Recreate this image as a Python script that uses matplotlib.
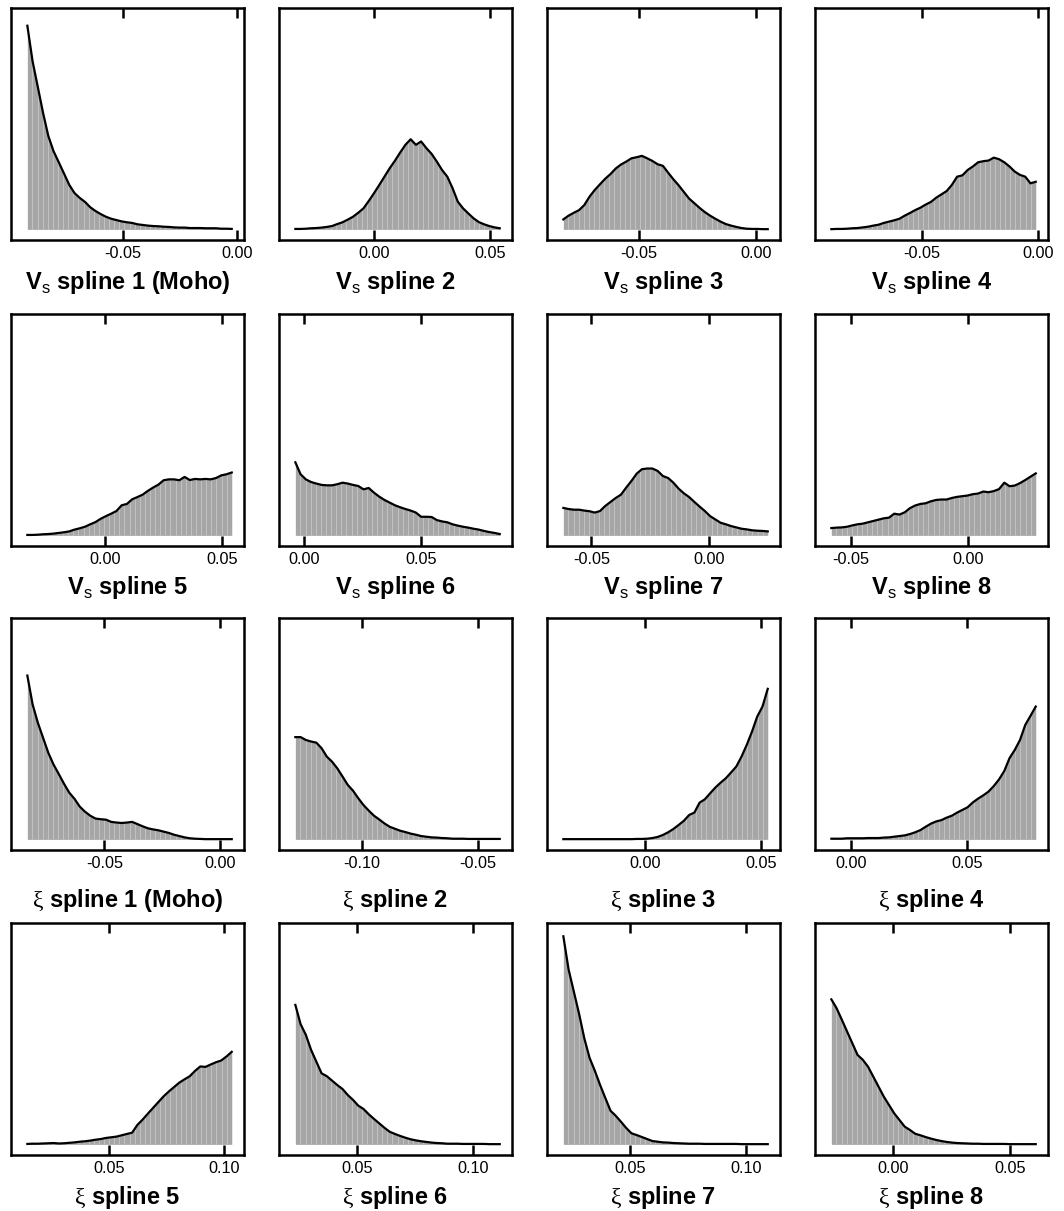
import numpy as np
import matplotlib
matplotlib.use("Agg")
import matplotlib.pyplot as plt
from matplotlib.ticker import MultipleLocator, FuncFormatter

plt.rcParams['font.family'] = ['Liberation Sans', 'DejaVu Sans']
plt.rcParams['mathtext.fontset'] = 'custom'
plt.rcParams['mathtext.rm'] = 'Liberation Serif'
plt.rcParams['mathtext.bf'] = 'Liberation Sans:bold'
plt.rcParams['mathtext.sf'] = 'Liberation Sans'

# sampled range (min, max) of each spline coefficient
vs_range = [(-0.0917, -0.0024), (-0.0336, 0.0541), (-0.0823, 0.0049), (-0.0888, -0.0009),
            (-0.0332, 0.0540), (-0.0038, 0.0834), (-0.0619, 0.0247), (-0.0585, 0.0289)]
xi_range = [(-0.0832, 0.0050), (-0.1288, -0.0406), (-0.0353, 0.0529), (-0.0085, 0.0794),
            (0.0144, 0.1032), (0.0237, 0.1114), (0.0212, 0.1094), (-0.0262, 0.0608)]

# density heights, 40 bins each, in % of plot height
vs1 = [92.0, 75.9, 64.3, 52.6, 42.2, 35.3, 30.3, 25.2, 20.1, 16.4,
       14.2, 12.4, 10.0, 8.3, 6.9, 5.7, 4.8, 4.2, 3.6, 3.2,
       2.9, 2.3, 2.0, 1.7, 1.5, 1.4, 1.2, 1.1, 0.9, 0.8,
       0.8, 0.6, 0.6, 0.6, 0.5, 0.5, 0.5, 0.3, 0.3, 0.2]
vs2 = [0.2, 0.2, 0.3, 0.5, 0.6, 0.8, 1.1, 1.5, 2.4, 3.2,
       4.4, 5.7, 7.5, 9.5, 12.8, 16.3, 20.0, 23.8, 27.6, 31.0,
       34.7, 38.2, 40.7, 38.2, 39.7, 36.7, 34.1, 30.6, 26.8, 23.8,
       18.6, 12.5, 9.5, 7.2, 5.0, 3.3, 2.3, 1.5, 0.9, 0.5]
vs3 = [4.5, 6.2, 7.5, 8.7, 11.0, 14.8, 17.8, 20.4, 22.9, 25.0,
       27.5, 29.3, 30.6, 32.1, 32.6, 33.2, 32.1, 30.9, 29.4, 28.7,
       25.6, 22.6, 19.9, 16.9, 13.9, 11.8, 9.7, 7.8, 6.2, 4.8,
       3.5, 2.4, 1.7, 1.1, 0.6, 0.3, 0.2, 0.2, 0.1, 0.1]
vs4 = [0.1, 0.2, 0.2, 0.3, 0.5, 0.6, 0.9, 1.2, 1.7, 2.1,
       2.9, 3.5, 4.1, 4.8, 6.2, 7.4, 8.7, 9.8, 11.2, 12.4,
       14.3, 15.8, 17.3, 20.1, 23.8, 24.4, 26.8, 28.4, 30.3, 30.8,
       31.1, 32.4, 31.7, 30.3, 28.4, 26.1, 24.6, 23.8, 20.8, 21.5]
vs5 = [0.2, 0.2, 0.3, 0.5, 0.6, 0.8, 1.1, 1.4, 1.8, 2.6,
       3.2, 3.9, 5.0, 6.0, 7.5, 8.7, 9.8, 11.0, 13.6, 14.2,
       16.3, 17.3, 18.4, 20.1, 21.6, 22.9, 24.9, 25.3, 25.3, 24.9,
       26.4, 25.0, 25.5, 25.3, 25.5, 25.3, 25.9, 27.1, 27.6, 28.4]
vs6 = [33.0, 27.6, 25.3, 24.1, 23.4, 22.8, 22.6, 22.6, 23.1, 23.8,
       23.4, 22.8, 22.3, 20.8, 21.4, 19.3, 17.5, 16.0, 14.8, 13.6,
       12.7, 11.9, 11.2, 10.3, 8.4, 8.4, 8.3, 6.9, 6.3, 5.9,
       5.0, 4.4, 3.9, 3.5, 3.0, 2.6, 2.0, 1.5, 1.1, 0.6]
vs7 = [12.4, 11.9, 11.6, 11.6, 11.2, 10.9, 10.3, 11.0, 13.3, 15.1,
       16.9, 18.4, 21.6, 24.6, 27.9, 29.9, 30.2, 30.2, 29.1, 26.8,
       25.9, 23.8, 21.1, 19.0, 17.3, 15.1, 13.0, 11.0, 8.7, 7.2,
       5.7, 5.0, 4.2, 3.6, 3.0, 2.7, 2.3, 2.1, 2.0, 1.8]
vs8 = [3.3, 3.5, 3.6, 3.9, 4.5, 5.0, 5.3, 5.9, 6.5, 7.1,
       7.7, 8.0, 9.8, 9.4, 10.4, 12.3, 13.5, 14.2, 14.5, 15.4,
       16.0, 16.2, 16.2, 16.9, 17.4, 17.7, 18.0, 18.6, 18.9, 19.8,
       19.5, 20.0, 20.9, 23.8, 22.2, 22.5, 23.6, 25.0, 26.5, 28.0]

xi1 = [74.0, 61.0, 52.7, 45.9, 39.1, 33.8, 29.5, 25.1, 21.1, 18.3,
       14.8, 12.5, 10.7, 9.4, 9.1, 8.9, 7.9, 7.6, 7.4, 7.6,
       7.9, 6.9, 5.9, 5.0, 4.5, 4.1, 3.5, 2.9, 2.1, 1.5,
       0.9, 0.5, 0.3, 0.2, 0.1, 0.1, 0.1, 0.1, 0.1, 0.1]
xi2 = [46.2, 46.2, 44.9, 44.2, 43.7, 41.2, 37.4, 35.1, 32.1, 28.4,
       24.6, 22.0, 18.6, 15.5, 13.0, 10.7, 9.0, 7.2, 5.7, 4.8,
       3.9, 3.3, 2.6, 2.1, 1.5, 1.2, 0.9, 0.8, 0.6, 0.5,
       0.3, 0.3, 0.3, 0.2, 0.2, 0.2, 0.2, 0.2, 0.2, 0.2]
xi3 = [0.1, 0.1, 0.1, 0.1, 0.1, 0.1, 0.1, 0.1, 0.1, 0.1,
       0.1, 0.1, 0.1, 0.1, 0.2, 0.2, 0.3, 0.6, 1.1, 2.0,
       3.2, 4.7, 6.5, 8.4, 11.0, 12.1, 16.6, 18.1, 20.8, 23.4,
       25.6, 27.6, 30.2, 32.9, 37.4, 42.7, 48.7, 55.5, 60.0, 68.0]
xi4 = [0.3, 0.3, 0.3, 0.5, 0.5, 0.5, 0.5, 0.6, 0.6, 0.6,
       0.8, 0.9, 1.2, 1.5, 1.8, 2.4, 3.2, 4.2, 5.7, 7.1,
       8.1, 8.7, 9.8, 10.7, 12.1, 13.3, 14.5, 16.7, 18.4, 19.9,
       21.6, 24.1, 27.1, 30.9, 36.7, 40.4, 44.9, 51.7, 55.8, 60.0]
xi5 = [0.2, 0.3, 0.3, 0.4, 0.5, 0.6, 0.4, 0.5, 0.7, 0.9,
       1.2, 1.4, 1.7, 2.1, 2.4, 2.9, 3.2, 3.5, 4.1, 4.7,
       5.3, 8.8, 11.2, 13.9, 16.5, 19.1, 21.7, 23.9, 25.9, 27.9,
       29.4, 30.8, 33.2, 35.2, 35.0, 36.1, 37.1, 37.9, 39.7, 41.8]
xi6 = [63.0, 54.3, 49.5, 42.7, 37.4, 32.1, 30.8, 28.8, 26.8, 25.0,
       22.3, 20.1, 17.5, 16.0, 13.6, 11.5, 9.5, 7.5, 5.7, 4.7,
       3.8, 3.0, 2.3, 1.8, 1.4, 1.1, 0.8, 0.6, 0.5, 0.3,
       0.3, 0.3, 0.2, 0.2, 0.2, 0.2, 0.2, 0.1, 0.1, 0.1]
xi7 = [94.0, 79.0, 69.0, 59.0, 47.9, 39.1, 33.3, 26.9, 21.0, 15.2,
       12.9, 10.2, 7.4, 5.0, 4.2, 3.3, 2.4, 1.5, 1.2, 0.9,
       0.8, 0.6, 0.5, 0.4, 0.3, 0.3, 0.3, 0.2, 0.2, 0.2,
       0.2, 0.2, 0.2, 0.2, 0.1, 0.1, 0.1, 0.1, 0.1, 0.1]
xi8 = [65.5, 61.5, 56.3, 51.0, 45.7, 40.4, 38.2, 35.1, 30.6, 26.1,
       21.6, 17.8, 14.0, 11.0, 8.0, 6.5, 4.8, 4.1, 3.3, 2.6,
       2.0, 1.5, 1.1, 0.8, 0.6, 0.5, 0.4, 0.3, 0.3, 0.2,
       0.2, 0.2, 0.2, 0.2, 0.1, 0.1, 0.1, 0.1, 0.1, 0.1]

spline_names = ['spline 1 (Moho)', 'spline 2', 'spline 3', 'spline 4',
                'spline 5', 'spline 6', 'spline 7', 'spline 8']

vs_hist = [vs1, vs2, vs3, vs4, vs5, vs6, vs7, vs8]
xi_hist = [xi1, xi2, xi3, xi4, xi5, xi6, xi7, xi8]

panels = []
for k in range(8):
    panels.append((vs_range[k], vs_hist[k], r'$\mathbf{V}_\mathsf{s}$ ' + spline_names[k]))
for k in range(8):
    panels.append((xi_range[k], xi_hist[k], r'$\mathrm{\xi}$ ' + spline_names[k]))

W, H = 1064, 1211
fig = plt.figure(figsize=(W / 100, H / 100), dpi=100)

col_left = [11, 279, 547, 815]
row_top = [8, 314, 618, 923]
box_w, box_h = 233, 232
label_drop = [49, 48, 57, 49]   # baseline of the x label below the box, px


def fmt(x, pos):
    return f"{round(x, 2) + 0.0:.2f}"


for i, ((lo, hi), pct, label) in enumerate(panels):
    r, c = divmod(i, 4)
    ax = fig.add_axes([col_left[c] / W, 1 - (row_top[r] + box_h) / H, box_w / W, box_h / H])
    h = np.array(pct) / 100.0
    x = np.linspace(lo, hi, len(h))

    # shaded area under the density, split into bins by thin light lines
    ax.fill_between(x, 0, h, color='#a6a6a6', linewidth=0)
    edges = np.linspace(lo, hi, len(h) + 1)[1:-1]
    ax.vlines(edges, 0, np.interp(edges, x, h), color='#cdcdcd', linewidth=0.5)
    ax.plot(x, h, color='black', lw=1.6)

    span = hi - lo
    ax.set_xlim(lo - 0.08 * span, hi + 0.06 * span)
    ax.set_ylim(-0.048, 1.0)
    ax.set_yticks([])
    ax.xaxis.set_major_locator(MultipleLocator(0.05))
    ax.xaxis.set_major_formatter(FuncFormatter(fmt))
    ax.tick_params(axis='x', top=True, direction='in', length=7, width=1.8,
                   pad=4.5, labelsize=11.7)
    for s in ax.spines.values():
        s.set_linewidth(1.8)

    ax.set_xlabel(label, fontsize=17, fontweight='bold')
    ax.xaxis.set_label_coords(0.5, -label_drop[r] / box_h)
    ax.xaxis.label.set_verticalalignment('baseline')

fig.savefig('out.png', dpi=100)
